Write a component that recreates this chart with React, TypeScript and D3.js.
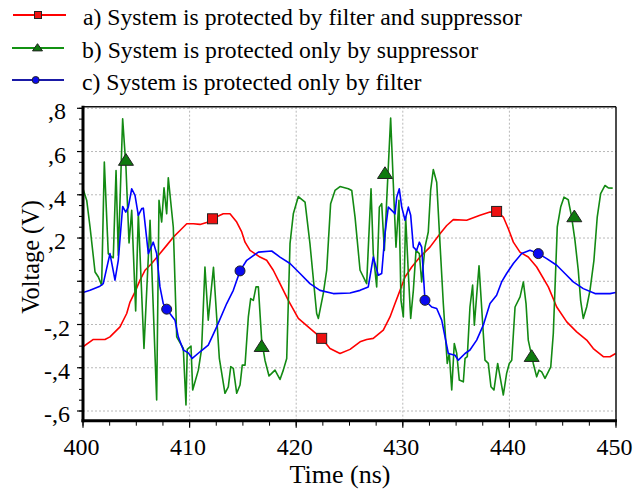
import React from 'react';
import * as d3 from 'd3';

const W = 643;
const H = 491;

const xTicks = [400, 410, 420, 430, 440, 450];
const xTickLabels = ['400', '410', '420', '430', '440', '450'];
const yTicks = [0.8, 0.6, 0.4, 0.2, 0, -0.2, -0.4, -0.6];
const yTickLabels = [',8', ',6', ',4', ',2', '', '-,2', '-,4', '-,6'];

const legendLabels = [
  'a) System is protected by filter and suppressor',
  'b) System is protected only by suppressor',
  'c) System is protected only by filter',
];

const xTitle = 'Time (ns)';
const yTitle = 'Voltage (V)';

// [time (ns), voltage (V)]
const seriesA: [number, number][] = [
  [400.0, -0.303], [400.97, -0.269], [402.06, -0.269], [402.53, -0.257], [403.47, -0.211], [404.1, -0.149],
  [404.41, -0.096], [404.88, -0.049], [405.35, 0.005], [405.82, 0.051], [406.44, 0.082], [407.22, 0.128],
  [407.85, 0.166], [408.47, 0.204], [409.1, 0.235], [409.73, 0.266], [410.35, 0.266], [410.98, 0.263],
  [411.75, 0.274], [412.15, 0.289], [412.85, 0.305], [413.16, 0.312], [413.79, 0.312], [414.42, 0.274],
  [414.89, 0.228], [415.2, 0.181], [415.67, 0.143], [416.6, 0.112], [417.23, 0.097], [417.85, 0.051],
  [418.48, -0.011], [419.26, -0.088], [420.2, -0.172], [421.29, -0.218], [422.39, -0.264], [423.17, -0.311],
  [424.11, -0.334], [425.05, -0.315], [425.99, -0.28], [426.61, -0.269], [427.23, -0.264], [428.17, -0.226],
  [428.8, -0.165], [429.27, -0.103], [429.74, -0.042], [430.21, 0.02], [430.84, 0.066], [431.61, 0.112],
  [432.55, 0.158], [433.49, 0.22], [434.12, 0.258], [434.74, 0.285], [435.99, 0.282], [437.24, 0.305],
  [438.18, 0.32], [438.8, 0.323], [439.43, 0.297], [439.9, 0.243], [440.37, 0.181], [440.99, 0.135],
  [441.77, 0.112], [442.56, 0.066], [443.65, -0.026], [444.44, -0.119], [445.38, -0.188], [446.31, -0.234],
  [447.25, -0.272], [447.87, -0.311], [448.81, -0.349], [449.44, -0.349], [449.97, -0.334],
];
const markersA: [number, number][] = [[412.15, 0.289], [422.39, -0.264], [438.8, 0.323]];

const seriesB: [number, number][] = [
  [400.0, 0.428], [400.35, 0.374], [400.66, 0.251], [401.13, 0.043], [401.44, 0.02], [401.75, -0.018],
  [402.0, 0.551], [402.37, 0.128], [402.69, 0.112], [402.84, 0.109], [403.1, 0.512], [403.31, 0.12],
  [403.72, 0.751], [404.03, 0.527], [404.32, 0.177], [404.57, 0.328], [404.94, -0.137], [405.19, 0.312],
  [405.72, -0.311], [406.29, 0.282], [406.91, -0.549], [407.13, 0.374], [407.38, 0.274], [407.6, 0.432],
  [407.85, 0.312], [408.0, 0.479], [408.47, 0.251], [408.79, -0.257], [409.41, -0.311], [409.66, -0.572],
  [409.78, -0.315], [410.13, -0.3], [410.29, -0.503], [410.82, -0.411], [411.13, -0.311], [411.44, 0.066],
  [411.75, -0.18], [412.24, 0.065], [412.79, -0.357], [413.32, -0.518], [413.63, -0.488], [413.86, -0.395],
  [414.1, -0.403], [414.42, -0.518], [414.73, -0.48], [414.94, -0.388], [415.2, -0.388], [415.51, -0.165],
  [415.73, -0.08], [415.98, -0.088], [416.23, -0.026], [416.45, -0.026], [416.76, -0.272], [417.07, -0.365],
  [417.45, -0.438], [417.7, -0.426], [418.01, -0.411], [418.48, -0.454], [418.79, -0.411], [419.11, -0.357],
  [419.42, 0.174], [419.73, 0.312], [420.2, 0.392], [420.83, 0.366], [421.29, 0.174], [421.92, -0.149],
  [422.08, -0.172], [422.54, -0.057], [422.86, 0.051], [423.23, 0.359], [423.64, 0.42], [424.11, 0.438],
  [424.89, 0.428], [425.21, 0.42], [425.52, 0.297], [425.99, 0.051], [426.61, -0.011], [427.02, 0.428],
  [427.23, 0.128], [427.55, -0.026], [427.8, 0.343], [428.02, 0.359], [428.27, 0.143], [428.49, 0.374],
  [428.86, 0.755], [429.11, 0.451], [429.36, 0.158], [429.64, 0.374], [429.83, -0.088], [430.05, -0.165],
  [430.27, 0.297], [430.52, 0.036], [430.74, -0.172], [430.99, -0.042], [431.24, 0.143], [431.55, 0.128],
  [431.77, -0.003], [432.08, 0.158], [432.39, 0.228], [432.61, 0.42], [432.86, 0.517], [433.18, 0.458],
  [433.49, 0.174], [433.8, -0.103], [434.17, -0.38], [434.36, -0.334], [434.59, -0.503], [434.83, -0.288],
  [435.06, -0.334], [435.3, -0.457], [435.68, -0.465], [435.84, -0.357], [436.05, -0.349], [436.3, -0.119],
  [436.55, -0.018], [436.71, -0.203], [437.15, 0.072], [437.71, -0.365], [438.02, -0.38], [438.27, -0.488],
  [438.55, -0.503], [438.9, -0.38], [439.18, -0.457], [439.43, -0.526], [439.74, -0.426], [439.99, -0.38],
  [440.22, -0.365], [440.53, -0.119], [441.0, -0.072], [441.31, -0.003], [441.56, -0.103], [441.77, -0.272],
  [442.24, -0.38], [442.56, -0.442], [442.78, -0.411], [443.03, -0.419], [443.34, -0.449], [443.65, -0.419],
  [443.88, -0.396], [444.12, -0.241], [444.49, 0.251], [444.81, 0.343], [445.12, 0.389], [445.52, 0.377],
  [445.84, 0.297], [446.15, 0.189], [446.46, 0.051], [446.68, -0.088], [446.93, -0.172], [447.25, -0.119],
  [447.56, -0.042], [447.93, 0.097], [448.24, 0.297], [448.56, 0.405], [448.97, 0.443], [449.28, 0.432],
  [449.69, 0.431],
];
const markersB: [number, number][] = [[404.03, 0.558], [416.76, -0.303], [428.33, 0.497], [442.09, -0.349], [446.09, 0.297]];

const seriesC: [number, number][] = [
  [400.0, -0.052], [400.66, -0.042], [401.59, -0.023], [401.9, -0.011], [402.53, 0.128], [403.0, 0.005],
  [403.31, 0.097], [403.72, 0.346], [404.01, 0.32], [404.25, 0.343], [404.57, 0.428], [404.88, 0.397],
  [405.19, 0.305], [405.51, 0.336], [405.66, 0.338], [406.13, 0.128], [406.59, 0.181], [406.91, 0.128],
  [407.22, -0.026], [407.53, -0.103], [407.85, -0.129], [408.63, -0.18], [408.94, -0.257], [409.41, -0.318],
  [409.88, -0.331], [410.25, -0.357], [410.98, -0.326], [411.75, -0.295], [412.54, -0.211], [413.48, -0.103],
  [414.1, -0.042], [414.73, 0.048], [415.36, 0.097], [416.45, 0.135], [417.7, 0.14], [418.48, 0.112],
  [419.42, 0.082], [420.36, 0.036], [421.29, -0.011], [422.23, -0.042], [423.48, -0.057], [425.05, -0.054],
  [425.99, -0.042], [426.76, -0.026], [427.23, 0.112], [427.7, 0.028], [428.02, 0.036], [428.33, 0.22],
  [428.64, 0.343], [428.96, 0.328], [429.27, 0.312], [429.43, 0.389], [429.67, 0.428], [429.9, 0.343],
  [430.21, 0.282], [430.52, 0.343], [430.74, 0.305], [430.99, 0.158], [431.3, 0.143], [431.55, 0.181],
  [431.77, 0.158], [432.08, -0.088], [432.71, -0.119], [433.18, -0.126], [433.65, -0.18], [433.96, -0.257],
  [434.27, -0.334], [434.9, -0.342], [435.21, -0.365], [435.84, -0.334], [436.3, -0.318], [436.93, -0.272],
  [437.55, -0.203], [438.18, -0.103], [438.8, -0.065], [439.27, -0.003], [439.74, 0.036], [440.37, 0.082],
  [441.15, 0.128], [441.93, 0.143], [442.71, 0.128], [443.5, 0.105], [444.44, 0.074], [445.21, 0.036],
  [445.99, -0.003], [446.93, -0.034], [448.03, -0.057], [449.44, -0.057], [449.97, -0.052],
];
const markersC: [number, number][] = [[407.85, -0.129], [414.73, 0.048], [432.08, -0.088], [442.71, 0.128]];

const FONT = '"Liberation Serif", "Times New Roman", serif';

type Shape = 'square' | 'triangle' | 'circle';

function Marker({ x, y, shape, fill, size }: { x: number; y: number; shape: Shape; fill: string; size: number }) {
  const stroke = '#222';
  if (shape === 'square') {
    return <rect x={x - size / 2} y={y - size / 2} width={size} height={size} fill={fill} stroke={stroke} strokeWidth={1} />;
  }
  if (shape === 'triangle') {
    const h = size * 0.9;
    const pts = `${x},${y - h * 0.6} ${x - size / 2 - 1},${y + h * 0.4} ${x + size / 2 + 1},${y + h * 0.4}`;
    return <polygon points={pts} fill={fill} stroke={stroke} strokeWidth={1} />;
  }
  return <circle cx={x} cy={y} r={size / 2} fill={fill} stroke={stroke} strokeWidth={1} />;
}

export default function App() {
  const left = 83, right = 616, top = 106.7, bottom = 420.7;
  const x = d3.scaleLinear().domain([400, 450]).range([left, right]);
  const y = d3.scaleLinear().domain([-0.6, 0.8]).range([411, 108.3]);

  const line = d3.line<[number, number]>().x(d => x(d[0])).y(d => y(d[1]));

  const series = [
    { data: seriesA, markers: markersA, color: '#ff0000', legendColor: '#ff0000', fill: '#ee1111', shape: 'square' as Shape, msize: 10 },
    { data: seriesB, markers: markersB, color: '#138a13', legendColor: '#139213', fill: '#0e7a0e', shape: 'triangle' as Shape, msize: 13 },
    { data: seriesC, markers: markersC, color: '#0000ff', legendColor: '#1a1aa6', fill: '#0a0af0', shape: 'circle' as Shape, msize: 10 },
  ];

  const xMinor = d3.range(400, 450.01, 2.5);
  const yMinor = d3.range(-0.6, 0.801, 0.05);

  const legendRows = [
    { y: 15, x1: 13, x2: 66, mx: 38, tx: 83 },
    { y: 48, x1: 12, x2: 64, mx: 37.5, tx: 82 },
    { y: 80, x1: 12, x2: 64, mx: 35.7, tx: 82 },
  ];

  return (
    <svg width={W} height={H} style={{ position: 'absolute', left: 0, top: 0, background: '#fff' }} fontFamily={FONT}>
      <rect x={0} y={0} width={W} height={H} fill="#fff" />
      <defs>
        <clipPath id="plotclip">
          <rect x={left} y={top} width={right - left} height={bottom - top} />
        </clipPath>
      </defs>

      {/* grid */}
      {yTicks.map((t, i) => (
        <line key={'gy' + i} x1={left} x2={right} y1={y(t)} y2={y(t)} stroke="#b8b8b8" strokeWidth={1} strokeDasharray="2,2" />
      ))}
      {xTicks.slice(1, -1).map((t, i) => (
        <line key={'gx' + i} x1={x(t)} x2={x(t)} y1={top} y2={bottom} stroke="#b8b8b8" strokeWidth={1} strokeDasharray="2,2" />
      ))}

      {/* lines */}
      <g clipPath="url(#plotclip)">
        {series.map((s, i) => (
          <path key={'l' + i} d={line(s.data) || ''} fill="none" stroke={s.color} strokeWidth={1.6} strokeLinejoin="round" />
        ))}
      </g>
      {series.map((s, i) => (
        <g key={'m' + i}>
          {s.markers.map((m, j) => (
            <Marker key={j} x={x(m[0])} y={y(m[1])} shape={s.shape} fill={s.fill} size={s.msize} />
          ))}
        </g>
      ))}

      {/* frame */}
      <line x1={left} x2={right} y1={top} y2={top} stroke="#111" strokeWidth={1.5} />
      <line x1={right} x2={right} y1={top} y2={bottom} stroke="#111" strokeWidth={1.5} />
      <line x1={left} x2={left} y1={top - 1} y2={bottom + 1.5} stroke="#000" strokeWidth={3} />
      <line x1={left - 1.5} x2={right + 1} y1={bottom} y2={bottom} stroke="#000" strokeWidth={3} />

      {/* x ticks */}
      {xMinor.map((t, i) => (
        <line key={'xm' + i} x1={x(t)} x2={x(t)} y1={bottom} y2={bottom + 5} stroke="#000" strokeWidth={1} />
      ))}
      {xTicks.map((t, i) => (
        <g key={'xt' + i}>
          <line x1={x(t)} x2={x(t)} y1={bottom} y2={bottom + 7} stroke="#000" strokeWidth={1.2} />
          <text x={x(t) - 1.5} y={455} textAnchor="middle" fontSize={24} fill="#000">{xTickLabels[i]}</text>
        </g>
      ))}

      {/* y ticks */}
      {yMinor.map((t, i) => (
        <line key={'ym' + i} x1={left - 4} x2={left} y1={y(t)} y2={y(t)} stroke="#000" strokeWidth={1} />
      ))}
      {yTicks.map((t, i) => (
        <g key={'yt' + i}>
          <line x1={left - 6} x2={left} y1={y(t)} y2={y(t)} stroke="#000" strokeWidth={1.2} />
          <text x={57} y={y(t) + 11} textAnchor="middle" fontSize={24} fill="#000">{yTickLabels[i]}</text>
        </g>
      ))}

      {/* axis titles */}
      <text x={340} y={483} textAnchor="middle" fontSize={26} fill="#000">{xTitle}</text>
      <text transform={`translate(39,257) rotate(-90)`} textAnchor="middle" fontSize={24.3} fill="#000">{yTitle}</text>

      {/* legend */}
      {legendRows.map((r, i) => (
        <g key={'lg' + i}>
          <line x1={r.x1} x2={r.x2} y1={r.y} y2={r.y} stroke={series[i].legendColor} strokeWidth={2} />
          <Marker x={r.mx} y={r.y} shape={series[i].shape} fill={series[i].fill} size={i === 1 ? 8 : 7} />
          <text x={r.tx} y={r.y + 10} fontSize={23.7} fill="#000">{legendLabels[i]}</text>
        </g>
      ))}
    </svg>
  );
}
